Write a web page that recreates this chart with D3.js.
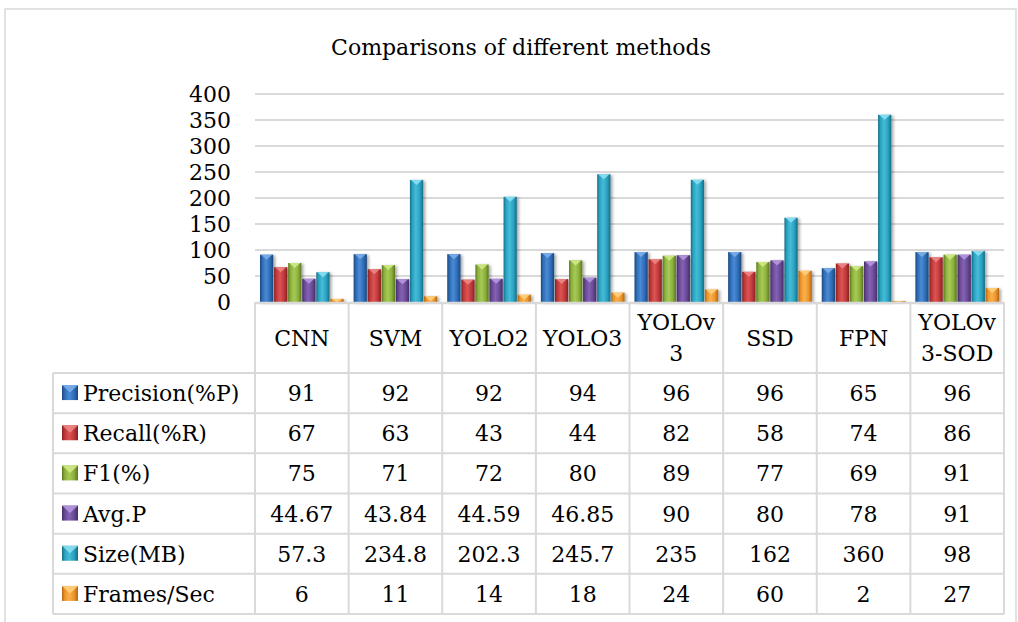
<!DOCTYPE html>
<html>
<head>
<meta charset="utf-8">
<script src="https://cdn.jsdelivr.net/npm/d3@7"></script>
<style>
html,body{margin:0;padding:0;background:#fff;}
svg{display:block;}
text{font-family:"DejaVu Serif",serif;fill:#000;}
</style>
</head>
<body>
<svg id="chart" width="1018" height="622"></svg>
<script>
const title = "Comparisons of different methods";
const categories = ["CNN","SVM","YOLO2","YOLO3","YOLOv3","SSD","FPN","YOLOv3-SOD"];
const seriesNames = ["Precision(%P)","Recall(%R)","F1(%)","Avg.P","Size(MB)","Frames/Sec"];
const precision = [91,92,92,94,96,96,65,96];
const recall    = [67,63,43,44,82,58,74,86];
const f1        = [75,71,72,80,89,77,69,91];
const avgP      = [44.67,43.84,44.59,46.85,90,80,78,91];
const sizeMB    = [57.3,234.8,202.3,245.7,235,162,360,98];
const fps       = [6,11,14,18,24,60,2,27];
const yTicks    = [0,50,100,150,200,250,300,350,400];

const seriesValues = [precision, recall, f1, avgP, sizeMB, fps];
const palette = [
  {base:"#2f6db5", light:"#4a8ad6", dark:"#1b477e", top:"#7fb0ea"},
  {base:"#c0393a", light:"#dc5453", dark:"#862221", top:"#ef8a88"},
  {base:"#8cb03c", light:"#a6ca55", dark:"#5c7723", top:"#d2ec8a"},
  {base:"#6a4997", light:"#8463b3", dark:"#442e66", top:"#b79be0"},
  {base:"#2aa2c0", light:"#45bcd8", dark:"#166d85", top:"#8fe2f4"},
  {base:"#f0952a", light:"#f8b04c", dark:"#b0661a", top:"#ffd27f"}
];

const svg = d3.select("#chart");
const defs = svg.append("defs");
palette.forEach((c,i)=>{
  const g = defs.append("linearGradient").attr("id","grad"+i)
    .attr("x1","0%").attr("x2","100%").attr("y1","0%").attr("y2","0%");
  g.append("stop").attr("offset","0%").attr("stop-color",c.dark);
  g.append("stop").attr("offset","18%").attr("stop-color",c.base);
  g.append("stop").attr("offset","45%").attr("stop-color",c.light);
  g.append("stop").attr("offset","75%").attr("stop-color",c.base);
  g.append("stop").attr("offset","100%").attr("stop-color",c.dark);
});
const f = defs.append("filter").attr("id","shadow").attr("x","-30%").attr("y","-10%").attr("width","170%").attr("height","130%");
f.append("feDropShadow").attr("dx",2).attr("dy",1).attr("stdDeviation",1.5).attr("flood-color","#000").attr("flood-opacity",0.35);

const gridColor = "#d9d9d9";
// outer frame
svg.append("rect").attr("x",5).attr("y",9).attr("width",1011).attr("height",640)
  .attr("fill","none").attr("stroke",gridColor).attr("stroke-width",1.5);

// title
svg.append("text").attr("x",521).attr("y",55).attr("text-anchor","middle")
  .style("font-size","22px").text(title);

const left = 255, right = 1004, y0 = 302, yTop = 94;
const x = d3.scaleBand().domain(categories).range([left,right]).padding(0);
const xi = d3.scaleBand().domain(seriesNames).range([5, x.bandwidth()-5]).paddingInner(0.06);
const y = d3.scaleLinear().domain([0,400]).range([y0,yTop]);

// gridlines
svg.append("g").selectAll("line").data(yTicks.filter(t=>t>0)).join("line")
  .attr("x1",left).attr("x2",right).attr("y1",d=>y(d)).attr("y2",d=>y(d))
  .attr("stroke",gridColor).attr("stroke-width",2);

// y axis labels
const yAxis = d3.axisLeft(y).tickValues(yTicks).tickSize(0).tickPadding(0).tickFormat(d3.format("d"));
const ga = svg.append("g").attr("transform","translate(231,0)").call(yAxis);
ga.select(".domain").remove();
ga.selectAll("text").style("font-size","22px").attr("font-family","DejaVu Serif").attr("fill","#000");

// bars
const groups = svg.append("g").selectAll("g").data(categories).join("g")
  .attr("transform",d=>`translate(${x(d)},0)`);
groups.each(function(cat,ci){
  const g = d3.select(this);
  seriesNames.forEach((s,si)=>{
    const v = seriesValues[si][ci];
    const bx = xi(s), bw = xi.bandwidth();
    const by = y(v), bh = y0 - y(v);
    const bar = g.append("g").attr("filter","url(#shadow)");
    bar.append("rect").attr("x",bx).attr("y",by).attr("width",bw).attr("height",bh)
      .attr("fill",`url(#grad${si})`);
    const th = Math.min(5, bh);
    bar.append("path")
      .attr("d",`M${bx+1},${by}L${bx+bw-1},${by}L${bx+bw/2},${by+th}Z`)
      .attr("fill",palette[si].top).attr("opacity",0.85);
  });
});

// data table
const tableTop = 373, tableBottom = 614, legendLeft = 53;
const rowH = (tableBottom - tableTop)/seriesNames.length;
const tg = svg.append("g");
// horizontal lines
tg.append("line").attr("x1",left).attr("x2",right).attr("y1",y0+1).attr("y2",y0+1)
  .attr("stroke",gridColor).attr("stroke-width",2.5);
d3.range(seriesNames.length+1).forEach(r=>{
  const yy = tableTop + r*rowH;
  tg.append("line").attr("x1",legendLeft).attr("x2",right).attr("y1",yy).attr("y2",yy)
    .attr("stroke",gridColor).attr("stroke-width",2);
});
// vertical lines
tg.append("line").attr("x1",legendLeft).attr("x2",legendLeft).attr("y1",tableTop).attr("y2",tableBottom)
  .attr("stroke",gridColor).attr("stroke-width",2);
categories.concat([null]).forEach((c,i)=>{
  const xx = c ? x(c) : right;
  tg.append("line").attr("x1",xx).attr("x2",xx).attr("y1",y0).attr("y2",tableBottom)
    .attr("stroke",gridColor).attr("stroke-width",2);
});

// category headers with wrapping
const maxW = 84;
categories.forEach(c=>{
  const cx = x(c) + x.bandwidth()/2;
  const t = tg.append("text").attr("text-anchor","middle").style("font-size","22px");
  // greedy char wrap
  const lines = [];
  let cur = "";
  const probe = tg.append("text").style("font-size","22px");
  for (const ch of c) {
    probe.text(cur+ch);
    if (probe.node().getComputedTextLength() > maxW && cur.length) { lines.push(cur); cur = ch; }
    else cur += ch;
  }
  lines.push(cur);
  probe.remove();
  const lh = 31;
  const mid = (y0 + tableTop)/2 + 8;
  lines.forEach((ln,li)=>{
    t.append("tspan").attr("x",cx).attr("y", mid + (li - (lines.length-1)/2)*lh).text(ln);
  });
});

// rows
seriesNames.forEach((s,si)=>{
  const cy = tableTop + si*rowH + rowH/2;
  // legend key
  const kx = 62, ky = cy-8, kw = 16, kh = 15;
  tg.append("rect").attr("x",kx).attr("y",ky).attr("width",kw).attr("height",kh)
    .attr("fill",`url(#grad${si})`);
  tg.append("path").attr("d",`M${kx},${ky}L${kx+kw},${ky}L${kx+kw/2},${ky+kh/2}Z`)
    .attr("fill",palette[si].top).attr("opacity",0.85);
  tg.append("text").attr("x",83).attr("y",cy+8).style("font-size","22px").text(s);
  categories.forEach((c,ci)=>{
    tg.append("text").attr("x",x(c)+x.bandwidth()/2).attr("y",cy+8)
      .attr("text-anchor","middle").style("font-size","22px")
      .text(seriesValues[si][ci]);
  });
});
</script>
</body>
</html>
